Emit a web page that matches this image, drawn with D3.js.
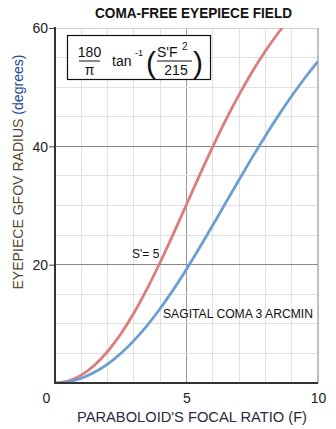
<!DOCTYPE html>
<html><head><meta charset="utf-8">
<script src="https://cdn.jsdelivr.net/npm/d3@7"></script>
<style>html,body{margin:0;padding:0;background:#fff;}svg{display:block;font-family:"Liberation Sans",Arial,sans-serif;}</style>
</head><body>
<script>
// Focal ratio F (x)
const focalRatio = [0,0.5,1,1.5,2,2.5,3,3.5,4,4.5,5,5.5,6,6.5,7,7.5,8,8.5,9,9.5,10];
// S' = 5 arcmin (red)
const seriesS5 = [0,0.33,1.33,3.00,5.32,8.27,11.82,15.90,20.41,25.21,30.17,35.13,39.94,44.50,48.73,52.60,56.10,59.24,62.04,null,null];
// S' = 3 arcmin, sagital coma 3 arcmin (blue)
const seriesS3 = [0,0.20,0.80,1.80,3.20,4.98,7.16,9.70,12.59,15.78,19.23,22.89,26.68,30.52,34.36,38.13,41.76,45.23,48.50,51.55,54.38];
const xTicks = [0,5,10];
const yTicks = [20,40,60];
const xGrid = [1,2,3,4,5,6,7,8,9];
const yGrid = [5,10,15,20,25,30,35,40,45,50,55];

const W=336,H=429;
const M={l:55,r:318,t:28,b:383};
const x=d3.scaleLinear().domain([0,10]).range([M.l,M.r]);
const y=d3.scaleLinear().domain([0,60]).range([M.b,M.t]);

const svg=d3.select("body").append("svg").attr("width",W).attr("height",H);

svg.append("defs").append("clipPath").attr("id","clip")
  .append("rect").attr("x",M.l).attr("y",M.t).attr("width",M.r-M.l).attr("height",M.b-M.t);

// grid
svg.append("g").selectAll("line").data(xGrid).join("line")
  .attr("x1",d=>x(d)).attr("x2",d=>x(d)).attr("y1",M.t).attr("y2",M.b)
  .attr("stroke",d=>d===5?"#999":"#e0e0e0").attr("stroke-width",1).attr("shape-rendering","crispEdges");
svg.append("g").selectAll("line").data(yGrid).join("line")
  .attr("x1",M.l).attr("x2",M.r).attr("y1",d=>y(d)).attr("y2",d=>y(d))
  .attr("stroke",d=>(d===20||d===40)?"#888":"#e0e0e0").attr("stroke-width",1).attr("shape-rendering","crispEdges");
// top & right border
svg.append("line").attr("x1",M.l).attr("x2",M.r).attr("y1",M.t).attr("y2",M.t).attr("stroke","#d0d0d0").attr("shape-rendering","crispEdges");
svg.append("line").attr("x1",M.r).attr("x2",M.r).attr("y1",M.t).attr("y2",M.b).attr("stroke","#aaa").attr("stroke-width",1.5);

// curves
const line=d3.line().defined(d=>d[1]!=null).x(d=>x(d[0])).y(d=>y(d[1])).curve(d3.curveMonotoneX);
const g=svg.append("g").attr("clip-path","url(#clip)");
g.append("path").datum(focalRatio.map((f,i)=>[f,seriesS5[i]]))
  .attr("d",line).attr("fill","none").attr("stroke","#de7c7c").attr("stroke-width",2.8);
g.append("path").datum(focalRatio.map((f,i)=>[f,seriesS3[i]]))
  .attr("d",line).attr("fill","none").attr("stroke","#6b9fd3").attr("stroke-width",2.8);

// axes
const yAxis=d3.axisLeft(y).tickValues(yTicks).tickSize(6).tickFormat(d3.format("d"));
const ya=svg.append("g").attr("transform",`translate(${M.l},0)`).call(yAxis);
ya.select(".domain").remove();
ya.selectAll("line").attr("stroke","#444");
ya.selectAll("text").attr("font-size",14).attr("fill","#222").attr("x",-7).attr("dy","0.35em");

const xAxis=d3.axisBottom(x).tickValues(xTicks).tickSize(0).tickFormat(d3.format("d"));
const xa=svg.append("g").attr("transform",`translate(0,${M.b})`).call(xAxis);
xa.select(".domain").remove();
xa.selectAll("text").attr("font-size",14).attr("fill","#222").attr("y",10).attr("dy","0.71em");
xa.selectAll(".tick").filter(d=>d===0).select("text").attr("dx",-9);

svg.append("line").attr("x1",M.l).attr("x2",M.l).attr("y1",M.t-1).attr("y2",M.b+1).attr("stroke","#333").attr("stroke-width",2);
svg.append("line").attr("x1",M.l).attr("x2",M.r).attr("y1",M.b).attr("y2",M.b).attr("stroke","#333").attr("stroke-width",2);

// title
svg.append("text").attr("x",193.5).attr("y",18).attr("text-anchor","middle")
  .attr("font-weight","bold").attr("font-size",14).attr("fill","#111")
  .attr("textLength",197).attr("lengthAdjust","spacingAndGlyphs").text("COMA-FREE EYEPIECE FIELD");

// axis titles
svg.append("text").attr("x",192).attr("y",422).attr("text-anchor","middle")
  .attr("font-size",15).attr("fill","#2a2a40")
  .attr("textLength",230).attr("lengthAdjust","spacingAndGlyphs").text("PARABOLOID'S FOCAL RATIO  (F)");
const yl=svg.append("text").attr("transform","translate(23,172) rotate(-90)").attr("text-anchor","middle")
  .attr("font-size",15).attr("textLength",235).attr("lengthAdjust","spacingAndGlyphs");
yl.append("tspan").attr("fill","#5a4632").text("EYEPIECE GFOV RADIUS ");
yl.append("tspan").attr("fill","#23479a").text("(degrees)");

// annotations
svg.append("text").attr("x",132).attr("y",258).attr("font-size",12).attr("fill","#111").text("S'= 5");
svg.append("text").attr("x",163).attr("y",318).attr("font-size",12).attr("fill","#111")
  .attr("textLength",150).attr("lengthAdjust","spacingAndGlyphs").text("SAGITAL COMA 3 ARCMIN");

// formula box
const fb=svg.append("g");
fb.append("rect").attr("x",67.5).attr("y",35.5).attr("width",143).attr("height",44).attr("fill","#fff").attr("stroke","#111").attr("stroke-width",1.2);
const fs=14;
fb.append("text").attr("x",89.5).attr("y",57).attr("text-anchor","middle").attr("font-size",fs).attr("fill","#111").text("180");
fb.append("line").attr("x1",79).attr("x2",100).attr("y1",61).attr("y2",61).attr("stroke","#111").attr("stroke-width",1);
fb.append("text").attr("x",89.5).attr("y",75).attr("text-anchor","middle").attr("font-size",fs).attr("fill","#111").text("π");
fb.append("text").attr("x",112).attr("y",66).attr("font-size",fs).attr("fill","#111").text("tan");
fb.append("text").attr("x",135).attr("y",56).attr("font-size",9).attr("fill","#111").text("-1");
fb.append("text").attr("x",146).attr("y",73).attr("font-size",30).attr("font-weight","300").attr("fill","#111")
  .attr("transform","translate(0,0)").text("(");
fb.append("text").attr("x",157).attr("y",57).attr("font-size",fs).attr("fill","#111").text("S'F");
fb.append("text").attr("x",182).attr("y",50).attr("font-size",10).attr("fill","#111").text("2");
fb.append("line").attr("x1",157).attr("x2",192).attr("y1",61).attr("y2",61).attr("stroke","#111").attr("stroke-width",1);
fb.append("text").attr("x",176).attr("y",75).attr("text-anchor","middle").attr("font-size",fs).attr("fill","#111").text("215");
fb.append("text").attr("x",193).attr("y",73).attr("font-size",30).attr("font-weight","300").attr("fill","#111").text(")");
</script>
</body></html>
